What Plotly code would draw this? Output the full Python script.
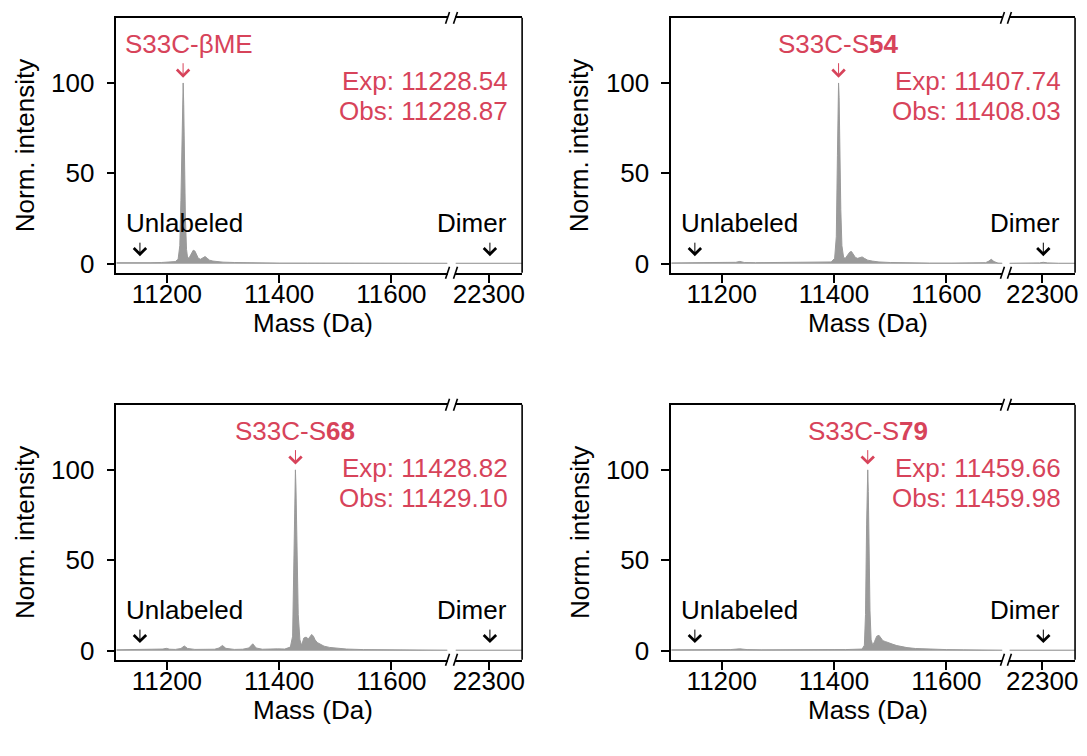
import plotly.graph_objects as go

# ---------------- data ----------------
labels = ["S33C-βME", "S33C-S<b>54</b>", "S33C-S<b>68</b>", "S33C-S<b>79</b>"]
exp_mass = ["11228.54", "11407.74", "11428.82", "11459.66"]
obs_mass = [11228.87, 11408.03, 11429.10, 11459.98]
obs_text = ["11228.87", "11408.03", "11429.10", "11459.98"]
unlabeled_mass = 11152
dimer_mass = 22302

m1 = [11110, 11130, 11150, 11170, 11190, 11205, 11215, 11220, 11223, 11225, 11227, 11228, 11229, 11230, 11231,
      11233, 11235, 11237, 11240, 11244, 11247, 11250, 11253, 11256, 11260, 11264, 11268, 11272, 11276, 11282,
      11290, 11300, 11320, 11350, 11400, 11450, 11500, 11550, 11600, 11650, 11700]
i1 = [0.6, 0.5, 0.7, 0.6, 0.7, 0.8, 1.2, 2.5, 10, 35, 75, 95, 100, 88, 60,
      25, 8, 3, 3.5, 5.5, 7.5, 7, 5, 3, 2.5, 3.5, 4, 3, 2, 1.5,
      1.1, 0.9, 0.7, 0.5, 0.4, 0.4, 0.3, 0.3, 0.3, 0.3, 0.3]

m2 = [11110, 11130, 11150, 11170, 11190, 11210, 11225, 11232, 11240, 11260, 11280, 11300, 11320, 11340, 11360,
      11380, 11395, 11401, 11404, 11406, 11407, 11408, 11409, 11410, 11412, 11414, 11417, 11420, 11424, 11428,
      11431, 11434, 11438, 11442, 11446, 11450, 11454, 11460, 11468, 11480, 11500, 11530, 11570, 11610, 11650,
      11670, 11676, 11680, 11685, 11692, 11700]
i2 = [0.5, 0.6, 0.5, 0.7, 0.6, 0.7, 0.8, 1.3, 0.7, 0.6, 0.7, 0.6, 0.8, 0.6, 0.7,
      0.8, 1, 3, 15, 60, 90, 100, 92, 65, 30, 10, 3.5, 3, 5, 6.5,
      6.8, 5.5, 3.5, 3, 3.5, 3.8, 3, 2, 1.5, 1, 0.7, 0.5, 0.4, 0.4, 0.4,
      0.6, 1.5, 2.5, 1.2, 0.4, 0.3]

m3 = [11110, 11130, 11150, 11170, 11185, 11193, 11199, 11205, 11215, 11225, 11231, 11237, 11250, 11270, 11285,
      11293, 11299, 11305, 11320, 11335, 11346, 11353, 11359, 11370, 11385, 11391, 11397, 11410, 11420, 11424,
      11426, 11428, 11429, 11430, 11432, 11434, 11437, 11440, 11444, 11448, 11452, 11455, 11458, 11461, 11464,
      11468, 11474, 11480, 11490, 11500, 11520, 11550, 11600, 11650, 11700]
i3 = [0.5, 0.6, 0.8, 0.6, 0.7, 0.9, 1.3, 0.8, 0.7, 1.2, 2.6, 1.2, 0.7, 0.6, 0.8,
      1.5, 2.9, 1.3, 0.7, 0.8, 1.5, 3.8, 1.5, 0.8, 0.9, 1.3, 1.0, 0.9, 2, 8,
      40, 85, 100, 90, 55, 20, 6, 3, 7, 7.5, 6.5, 7.5, 9, 8, 6,
      4.5, 3.5, 2.5, 1.8, 1.4, 0.9, 0.6, 0.4, 0.3, 0.3]

m4 = [11110, 11130, 11150, 11170, 11188, 11200, 11215, 11232, 11245, 11270, 11300, 11330, 11360, 11380, 11400,
      11420, 11440, 11450, 11454, 11456, 11458, 11459, 11460, 11461, 11462, 11464, 11466, 11469, 11472, 11476,
      11480, 11483, 11487, 11492, 11498, 11505, 11512, 11520, 11530, 11545, 11560, 11580, 11600, 11630, 11660,
      11690, 11700]
i4 = [0.5, 0.5, 0.6, 0.6, 0.9, 0.6, 0.6, 1.0, 0.6, 0.5, 0.6, 0.5, 0.6, 0.5, 0.6,
      0.6, 0.7, 0.9, 3, 20, 70, 95, 100, 88, 55, 22, 6, 3, 5, 8,
      8.5, 7, 5.5, 5, 4.2, 3.5, 2.8, 2.2, 1.7, 1.2, 1.0, 0.7, 0.6, 0.5, 0.4,
      0.6, 0.3]

dimer_m = [22240, 22260, 22280, 22295, 22302, 22310, 22330, 22360]
dimer_i = [[0.3, 0.3, 0.3, 0.35, 0.4, 0.35, 0.3, 0.3],
           [0.3, 0.3, 0.3, 0.5, 0.8, 0.5, 0.3, 0.3],
           [0.3, 0.3, 0.3, 0.35, 0.4, 0.35, 0.3, 0.3],
           [0.3, 0.3, 0.3, 0.35, 0.4, 0.35, 0.3, 0.3]]

spectra_m = [m1, m2, m3, m4]
spectra_i = [i1, i2, i3, i4]

left_ticks = [11200, 11400, 11600]
left_ticktext = ["11200", "11400", "11600"]
right_ticks = [22300]
right_ticktext = ["22300"]
y_ticks = [0, 50, 100]
y_ticktext = ["0", "50", "100"]

# ---------------- style / layout ----------------
W, H = 1087, 756
RED = "#d7435a"
GRAY = "#9a9a9a"
FONT = "Liberation Sans, Arial, Helvetica, sans-serif"
FS = 26
LW = 1.6

cols = [dict(l=114, b1=447, b2=455, r=522), dict(l=672, b1=1005, b2=1012, r=1078)]
rows = [dict(t=18, b=275), dict(t=408, b=665)]
YR = [-5, 136]
label_shift = [6, 0, 0, 0]

fig = go.Figure()
layout = dict(width=W, height=H, margin=dict(l=0, r=0, t=0, b=0),
              plot_bgcolor="white", paper_bgcolor="white", showlegend=False,
              font=dict(family=FONT, size=FS, color="black"))
shapes, annos = [], []

def px(x):
    return x / W

def py(y):
    return 1 - y / H

for k in range(4):
    c = cols[k % 2]
    r = rows[k // 2]
    xa, xb, ya = 2 * k + 1, 2 * k + 2, k + 1
    xl, xr_, yn = f"x{xa}", f"x{xb}", f"y{ya}"

    fig.add_trace(go.Scatter(x=spectra_m[k], y=spectra_i[k], mode="lines", fill="tozeroy",
                             line=dict(color=GRAY, width=1), fillcolor=GRAY,
                             xaxis=xl, yaxis=yn, hoverinfo="skip"))
    fig.add_trace(go.Scatter(x=dimer_m, y=dimer_i[k], mode="lines", fill="tozeroy",
                             line=dict(color=GRAY, width=1), fillcolor=GRAY,
                             xaxis=xr_, yaxis=yn, hoverinfo="skip"))

    common_x = dict(showline=True, linecolor="black", linewidth=LW, mirror=True,
                    ticks="outside", ticklen=8, tickwidth=LW, tickcolor="black",
                    showgrid=False, zeroline=False, anchor=yn, ticklabelstandoff=-11,
                    tickfont=dict(family=FONT, size=FS))
    layout[f"xaxis{xa}"] = dict(domain=[px(c["l"]), px(c["b1"])], range=[11110, 11700],
                                tickvals=left_ticks, ticktext=left_ticktext, **common_x)
    layout[f"xaxis{xb}"] = dict(domain=[px(c["b2"]), px(c["r"])], range=[22240, 22360],
                                tickvals=right_ticks, ticktext=right_ticktext, **common_x)
    layout[f"yaxis{ya}"] = dict(domain=[py(r["b"]), py(r["t"])], range=YR, anchor=xl,
                                tickvals=y_ticks, ticktext=y_ticktext, showline=True, linecolor="black",
                                linewidth=LW, ticks="outside", ticklen=8, tickwidth=LW, tickcolor="black",
                                showgrid=False, zeroline=False, ticklabelstandoff=7,
                                tickfont=dict(family=FONT, size=FS))

    # right spine
    shapes.append(dict(type="line", xref="paper", yref="paper",
                       x0=px(c["r"]), x1=px(c["r"]), y0=py(r["b"]), y1=py(r["t"]),
                       line=dict(color="black", width=LW)))
    # break marks
    for bx in (c["b1"], c["b2"]):
        for by in (r["t"], r["b"]):
            shapes.append(dict(type="line", xref="paper", yref="paper",
                               x0=px(bx - 2), x1=px(bx + 2), y0=py(by + 6), y1=py(by - 6),
                               line=dict(color="black", width=LW)))

    # main label + arrow
    annos.append(dict(x=obs_mass[k], y=121.5, xref=xl, yref=yn, text=labels[k], xshift=label_shift[k],
                      showarrow=False, font=dict(color=RED, size=FS), xanchor="center", yanchor="middle"))
    annos.append(dict(x=obs_mass[k], y=102.9, xref=xl, yref=yn, text="", showarrow=True,
                      ax=0, ay=-16, axref="pixel", ayref="pixel", arrowhead=4, arrowsize=2.4,
                      arrowwidth=1, arrowcolor=RED, standoff=0, startstandoff=0))
    # Exp / Obs
    annos.append(dict(x=px(c["r"] - 12), y=101.3, xref="paper", yref=yn, text=f"Exp: {exp_mass[k]}",
                      showarrow=False, font=dict(color=RED, size=FS), xanchor="right", yanchor="middle"))
    annos.append(dict(x=px(c["r"] - 12), y=84.6, xref="paper", yref=yn, text=f"Obs: {obs_text[k]}",
                      showarrow=False, font=dict(color=RED, size=FS), xanchor="right", yanchor="middle"))
    # Unlabeled / Dimer
    annos.append(dict(x=11123, y=22.3, xref=xl, yref=yn, text="Unlabeled", showarrow=False,
                      font=dict(size=FS), xanchor="left", yanchor="middle"))
    annos.append(dict(x=unlabeled_mass, y=4.2, xref=xl, yref=yn, text="", showarrow=True,
                      ax=0, ay=-15, axref="pixel", ayref="pixel", arrowhead=4, arrowsize=2.4,
                      arrowwidth=1, arrowcolor="black", standoff=0, startstandoff=0))
    annos.append(dict(x=22337, y=22.3, xref=xr_, yref=yn, text="Dimer", showarrow=False,
                      font=dict(size=FS), xanchor="right", yanchor="middle"))
    annos.append(dict(x=dimer_mass, y=4.2, xref=xr_, yref=yn, text="", showarrow=True,
                      ax=0, ay=-15, axref="pixel", ayref="pixel", arrowhead=4, arrowsize=2.4,
                      arrowwidth=1, arrowcolor="black", standoff=0, startstandoff=0))
    # axis titles
    annos.append(dict(x=px(c["l"] - 92), y=py((r["t"] + r["b"]) / 2), xref="paper", yref="paper",
                      text="Norm. intensity", textangle=-90, showarrow=False, font=dict(size=FS),
                      xanchor="center", yanchor="middle"))
    annos.append(dict(x=px(c["l"] + 198), y=py(r["b"] + 51), xref="paper", yref="paper",
                      text="Mass (Da)", showarrow=False, font=dict(size=FS),
                      xanchor="center", yanchor="middle"))

layout["shapes"] = shapes
layout["annotations"] = annos
fig.update_layout(**layout)
fig.write_html("out.html")
